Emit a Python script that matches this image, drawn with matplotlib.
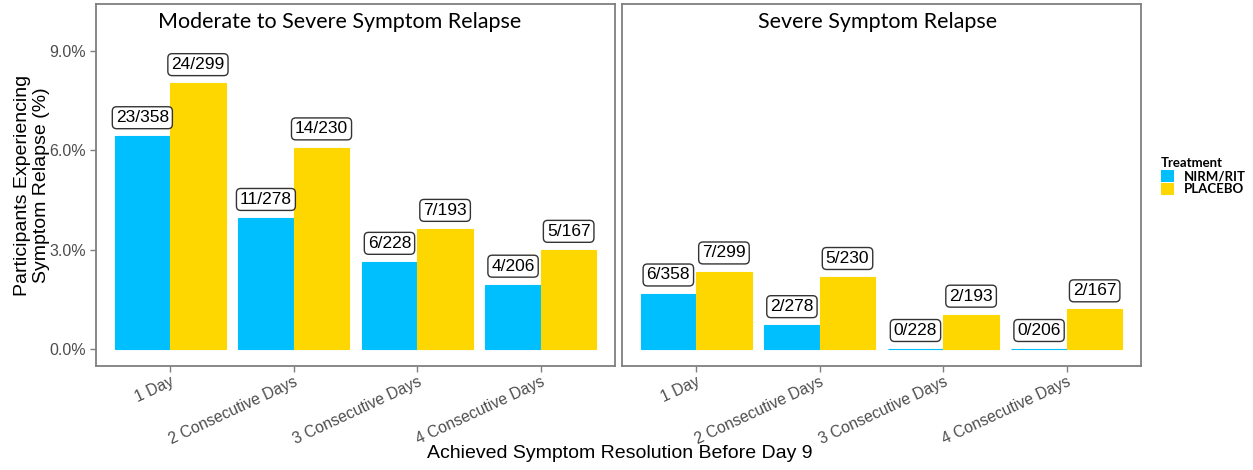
import matplotlib
matplotlib.use('Agg')
import matplotlib.pyplot as plt
from matplotlib.patches import Patch
import numpy as np

days = ['1 Day', '2 Consecutive Days', '3 Consecutive Days', '4 Consecutive Days']
treatments = ['NIRM/RIT', 'PLACEBO']
colors = {'NIRM/RIT': '#00BFFF', 'PLACEBO': '#FFD700'}

panels = ['Moderate to Severe Symptom Relapse', 'Severe Symptom Relapse']

# relapse counts / participants at risk
mod_nirm_n = [23, 11, 6, 4]
mod_nirm_d = [358, 278, 228, 206]
mod_plac_n = [24, 14, 7, 5]
mod_plac_d = [299, 230, 193, 167]

sev_nirm_n = [6, 2, 0, 0]
sev_nirm_d = [358, 278, 228, 206]
sev_plac_n = [7, 5, 2, 2]
sev_plac_d = [299, 230, 193, 167]

panel_data = [
    [(mod_nirm_n, mod_nirm_d), (mod_plac_n, mod_plac_d)],
    [(sev_nirm_n, sev_nirm_d), (sev_plac_n, sev_plac_d)],
]

W, H = 1253, 470
fig = plt.figure(figsize=(W / 100, H / 100), dpi=100)
plt.rcParams['font.family'] = ['Liberation Sans', 'DejaVu Sans']

frame_col = '#7F7F7F'
tick_col = '#4D4D4D'
bw = 0.45
x = np.arange(1, 5)

lefts = [96, 622]
title_x = [0.47, 0.493]
for p in range(2):
    ax = fig.add_axes([lefts[p] / W, (H - 366) / H, 519 / W, 362 / H])
    for t, (num, den) in enumerate(panel_data[p]):
        pct = np.array(num) / np.array(den) * 100
        xs = x + (t - 0.5) * bw
        ax.bar(xs, pct, width=bw, color=colors[treatments[t]],
               edgecolor=colors[treatments[t]], linewidth=0.8)
        for xi, yi, n, d in zip(xs, pct, num, den):
            ax.annotate(f'{n}/{d}', (xi, yi), xytext=(0, 8), textcoords='offset points',
                        ha='center', va='bottom', fontsize=12.5, color='black',
                        bbox=dict(boxstyle='round,pad=0.2,rounding_size=0.25',
                                  fc='white', ec='#333333', lw=1))
    ax.set_xlim(0.4, 4.6)
    ax.set_ylim(-0.51, 10.42)
    ax.set_xticks(x)
    ax.set_xticklabels(days, rotation=25, ha='right', rotation_mode='anchor',
                       fontsize=11.3, color=tick_col)
    ax.set_yticks([0, 3, 6, 9])
    if p == 0:
        ax.set_yticklabels(['0.0%', '3.0%', '6.0%', '9.0%'], fontsize=11.5, color=tick_col)
        ax.tick_params(axis='y', length=4, color=frame_col, width=1)
    else:
        ax.tick_params(axis='y', left=False, labelleft=False)
    ax.tick_params(axis='x', length=4, color=frame_col, width=1, pad=2)
    for s in ax.spines.values():
        s.set_color(frame_col)
        s.set_linewidth(1.3)
    ax.text(title_x[p], 0.95, panels[p], transform=ax.transAxes, ha='center', va='center',
            fontsize=15.5, family='Lato', color='black')

fig.text(32 / W, 1 - 185 / H, 'Participants Experiencing\nSymptom Relapse (%)',
         rotation=90, ha='center', va='center', fontsize=14, linespacing=1.1)
fig.text(620 / W, 1 - 453 / H, 'Achieved Symptom Resolution Before Day 9',
         ha='center', va='center', fontsize=14)

handles = [Patch(facecolor=colors[t], edgecolor='none') for t in treatments]
leg = fig.legend(handles, treatments, title='Treatment', loc='upper left',
                 bbox_to_anchor=(1161 / W, 1 - 157 / H), frameon=False,
                 handlelength=0.96, handleheight=1.04, handletextpad=0.75,
                 labelspacing=0.05, borderaxespad=0, borderpad=0, alignment='left',
                 prop={'family': 'Lato', 'weight': 'bold', 'size': 9.5},
                 title_fontproperties={'family': 'Lato', 'weight': 'bold', 'size': 9.5})

fig.savefig('out.png', dpi=100)
